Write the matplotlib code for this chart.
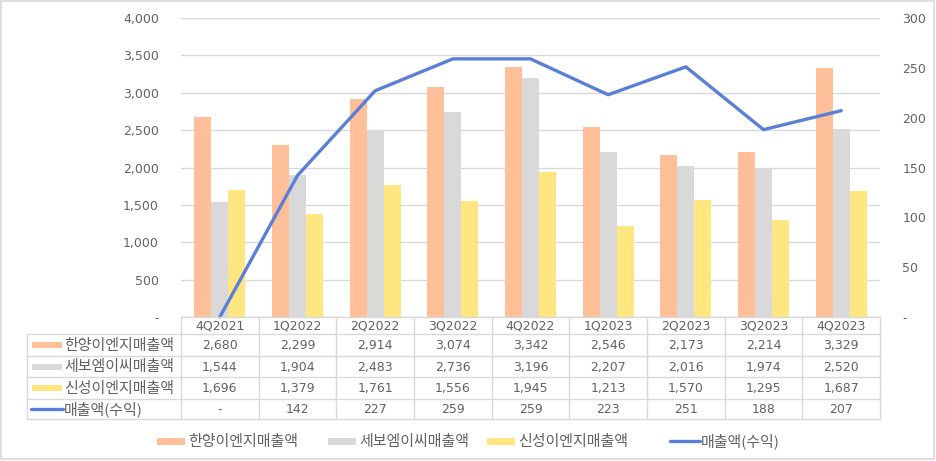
import matplotlib
matplotlib.use("Agg")
import matplotlib.pyplot as plt
from matplotlib.patches import Rectangle
from matplotlib.ticker import FuncFormatter, MultipleLocator

plt.rcParams['font.family'] = ['DejaVu Sans', 'Noto Sans CJK KR']
KR = ['Noto Sans CJK KR', 'DejaVu Sans']

categories = ['4Q2021', '1Q2022', '2Q2022', '3Q2022', '4Q2022', '1Q2023', '2Q2023', '3Q2023', '4Q2023']
hanyang = [2680, 2299, 2914, 3074, 3342, 2546, 2173, 2214, 3329]
sebo = [1544, 1904, 2483, 2736, 3196, 2207, 2016, 1974, 2520]
sinsung = [1696, 1379, 1761, 1556, 1945, 1213, 1570, 1295, 1687]
revenue = [0, 142, 227, 259, 259, 223, 251, 188, 207]

bar_names = ['한양이엔지매출액', '세보엠이씨매출액', '신성이엔지매출액']
line_name = '매출액(수익)'
bar_colors = ['#FFBF99', '#D9D9D9', '#FFE680']
line_color = '#5A7FD6'
txt_color = '#626262'
grid_color = '#D9D9D9'

W, H = 936, 461
fig = plt.figure(figsize=(W / 100, H / 100), dpi=100)

def fx(px):
    return px / W

def fy(py):
    return 1 - py / H

# plot area
L, R, T, B = 181, 880, 18, 317
ax = fig.add_axes([fx(L), fy(B), fx(R - L), (B - T) / H])
n = len(categories)
xs = list(range(n))
bw = 0.22
for k, (vals, col) in enumerate(zip([hanyang, sebo, sinsung], bar_colors)):
    ax.bar([x + (k - 1) * bw for x in xs], vals, width=bw, color=col, zorder=2)
ax.set_xlim(-0.5, n - 0.5)
ax.set_ylim(0, 4000)
ax.yaxis.set_major_locator(MultipleLocator(500))
ax.yaxis.set_major_formatter(FuncFormatter(lambda v, p: '-' if v == 0 else f'{int(v):,}'))
ax.grid(axis='y', color=grid_color, linewidth=1, zorder=0)
ax.set_axisbelow(True)
for s in ax.spines.values():
    s.set_visible(False)
ax.tick_params(axis='y', length=0, pad=16, labelsize=9, labelcolor=txt_color)
ax.set_xticks([])

ax2 = ax.twinx()
ax2.set_ylim(0, 300)
ax2.yaxis.set_major_locator(MultipleLocator(50))
ax2.yaxis.set_major_formatter(FuncFormatter(lambda v, p: '-' if v == 0 else f'{int(v)}'))
for s in ax2.spines.values():
    s.set_visible(False)
ax2.tick_params(axis='y', length=0, pad=16, labelsize=9, labelcolor=txt_color)
ax2.plot(xs, revenue, color=line_color, linewidth=2.4, clip_on=False, zorder=3, solid_capstyle='round')

# data table
TL = 27
rows_px = [317, 334, 356, 377, 399, 419]
tax = fig.add_axes([0, 0, 1, 1], facecolor='none')
tax.set_xlim(0, W)
tax.set_ylim(H, 0)
tax.axis('off')
colw = (R - L) / n
lc = '#D9D9D9'
tax.plot([L, R], [rows_px[0]] * 2, color=lc, lw=1)
for yy in rows_px[1:]:
    tax.plot([TL, R], [yy, yy], color=lc, lw=1)
for i in range(n + 1):
    tax.plot([L + i * colw] * 2, [rows_px[0], rows_px[-1]], color=lc, lw=1)
tax.plot([TL, TL], [rows_px[1], rows_px[-1]], color=lc, lw=1)

for i, c in enumerate(categories):
    cx = L + (i + 0.5) * colw
    tax.text(cx, (rows_px[0] + rows_px[1]) / 2 + 0.5, c, ha='center', va='center', fontsize=9, color=txt_color)

series = [hanyang, sebo, sinsung, revenue]
names = bar_names + [line_name]
for r, (vals, name) in enumerate(zip(series, names)):
    cy = (rows_px[r + 1] + rows_px[r + 2]) / 2
    if r < 3:
        tax.add_patch(Rectangle((32, cy - 3), 30, 6, color=bar_colors[r], lw=0))
    else:
        tax.plot([31, 63], [cy, cy], color=line_color, lw=2.4, solid_capstyle='round')
    tax.text(64, cy + 0.5, name, ha='left', va='center', fontsize=10.8, color=txt_color, family=KR)
    for i, v in enumerate(vals):
        cx = L + (i + 0.5) * colw
        s = ('-' if v == 0 else f'{v:,}')
        tax.text(cx, cy + 0.5, s, ha='center', va='center', fontsize=9, color=txt_color)

# bottom legend
ly = 441
leg_x = [157, 328, 487, 670]
for k, (x0, name) in enumerate(zip(leg_x, names)):
    if k < 3:
        tax.add_patch(Rectangle((x0, ly - 3.5), 28, 7, color=bar_colors[k], lw=0))
    else:
        tax.plot([x0, x0 + 30], [ly, ly], color=line_color, lw=2.4, solid_capstyle='round')
    tax.text(x0 + 31, ly + 0.5, name, ha='left', va='center', fontsize=10.8, color=txt_color, family=KR)

# outer border
fig.patches.append(Rectangle((fx(1), fy(459)), fx(933), (458) / H, transform=fig.transFigure,
                             fill=False, edgecolor='#D9D9D9', lw=1.2))

fig.savefig('out.png', dpi=100)
